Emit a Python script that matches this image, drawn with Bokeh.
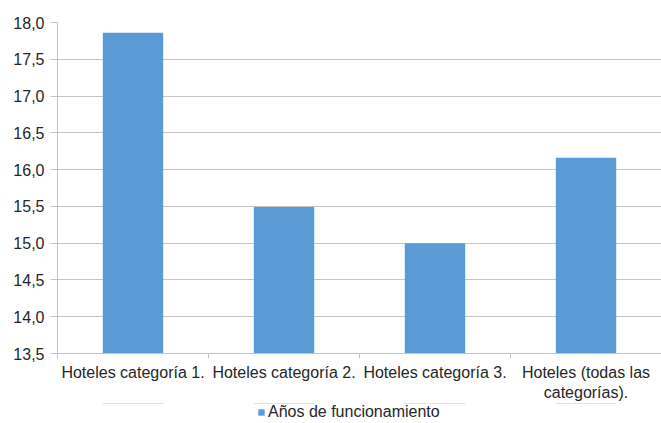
from bokeh.plotting import figure
from bokeh.layouts import column
from bokeh.models import (FactorRange, Range1d, FixedTicker, CustomJSTickFormatter,
                          LinearAxis, Legend, LegendItem, ColumnDataSource)
from bokeh.embed import file_html
from bokeh.resources import INLINE

categories = ["Hoteles categoría 1.", "Hoteles categoría 2.", "Hoteles categoría 3.",
              "Hoteles (todas las\ncategorías)."]
values = [17.86, 15.49, 15.0, 16.16]
series_name = "Años de funcionamiento"
y_ticks = [13.5, 14.0, 14.5, 15.0, 15.5, 16.0, 16.5, 17.0, 17.5, 18.0]
boundary_ticks = [0, 1, 2, 3, 4]

FONT = "Liberation Sans"
TXT = "#262626"
GRID = "#c4c4c4"
BAR = "#5b9bd5"

p = figure(width=661, height=403, output_backend="svg", toolbar_location=None,
           x_range=FactorRange(*categories, range_padding=0),
           y_range=Range1d(y_ticks[0], y_ticks[-1]),
           min_border_left=57, min_border_right=0, min_border_top=22,
           min_border_bottom=48)
p.outline_line_color = None

src = ColumnDataSource(dict(cat=categories, val=values))
bars = p.vbar(x="cat", top="val", bottom=y_ticks[0], width=0.4, source=src,
              fill_color=BAR, line_color=None)

# y axis
ya = p.yaxis[0]
ya.ticker = FixedTicker(ticks=y_ticks)
ya.formatter = CustomJSTickFormatter(code="return tick.toFixed(1).replace('.', ',');")
ya.axis_line_color = GRID
ya.major_tick_line_color = GRID
ya.major_tick_out = 7
ya.major_tick_in = 0
ya.minor_tick_line_color = None
ya.major_label_standoff = 6
ya.major_label_text_font = FONT
ya.major_label_text_font_size = "16px"
ya.major_label_text_color = TXT

p.ygrid.ticker = FixedTicker(ticks=y_ticks)
p.ygrid.grid_line_color = GRID
p.xgrid.grid_line_color = None

# categorical axis (labels only)
xa = p.xaxis[0]
xa.axis_line_color = None
xa.major_tick_line_color = None
xa.major_tick_out = 0
xa.major_tick_in = 0
xa.major_label_standoff = 5
xa.major_label_text_font = FONT
xa.major_label_text_font_size = "16px"
xa.major_label_text_color = TXT

# boundary tick axis (axis line + ticks between categories, synthetic coords)
ta = LinearAxis(ticker=FixedTicker(ticks=boundary_ticks),
                formatter=CustomJSTickFormatter(code="return '';"))
ta.axis_line_color = GRID
ta.major_tick_line_color = GRID
ta.major_tick_out = 5
ta.major_tick_in = 0
ta.minor_tick_line_color = None
ta.major_label_standoff = 0
ta.major_label_text_font_size = "1px"
p.add_layout(ta, "below")
p.below = [ta, xa]

# legend row (separate strip so the legend is not clipped by the chart frame);
# its swatch renderer shares the data but the bars lie outside this strip's view
lp = figure(width=661, height=20, output_backend="svg", toolbar_location=None,
            x_range=FactorRange(*categories, range_padding=0), y_range=Range1d(0, 1),
            x_axis_type=None, y_axis_type=None,
            min_border_left=0, min_border_right=0, min_border_top=0, min_border_bottom=0)
lp.outline_line_color = None
lp.xgrid.visible = False
lp.ygrid.visible = False
swatch = lp.vbar(x="cat", top="val", bottom=y_ticks[0], width=0.4, source=src,
                 fill_color=BAR, line_color=None)

legend = Legend(items=[LegendItem(label=series_name, renderers=[swatch])],
                location=(200, 2), orientation="horizontal",
                glyph_width=8, glyph_height=8, label_standoff=3,
                padding=0, margin=0, spacing=0, border_line_color=None,
                background_fill_alpha=0, label_text_font=FONT,
                label_text_font_size="16px", label_text_color=TXT,
                label_height=16)
lp.add_layout(legend, "center")

layout = column(p, lp, spacing=0)
open("out.html", "w").write(file_html(layout, INLINE))
